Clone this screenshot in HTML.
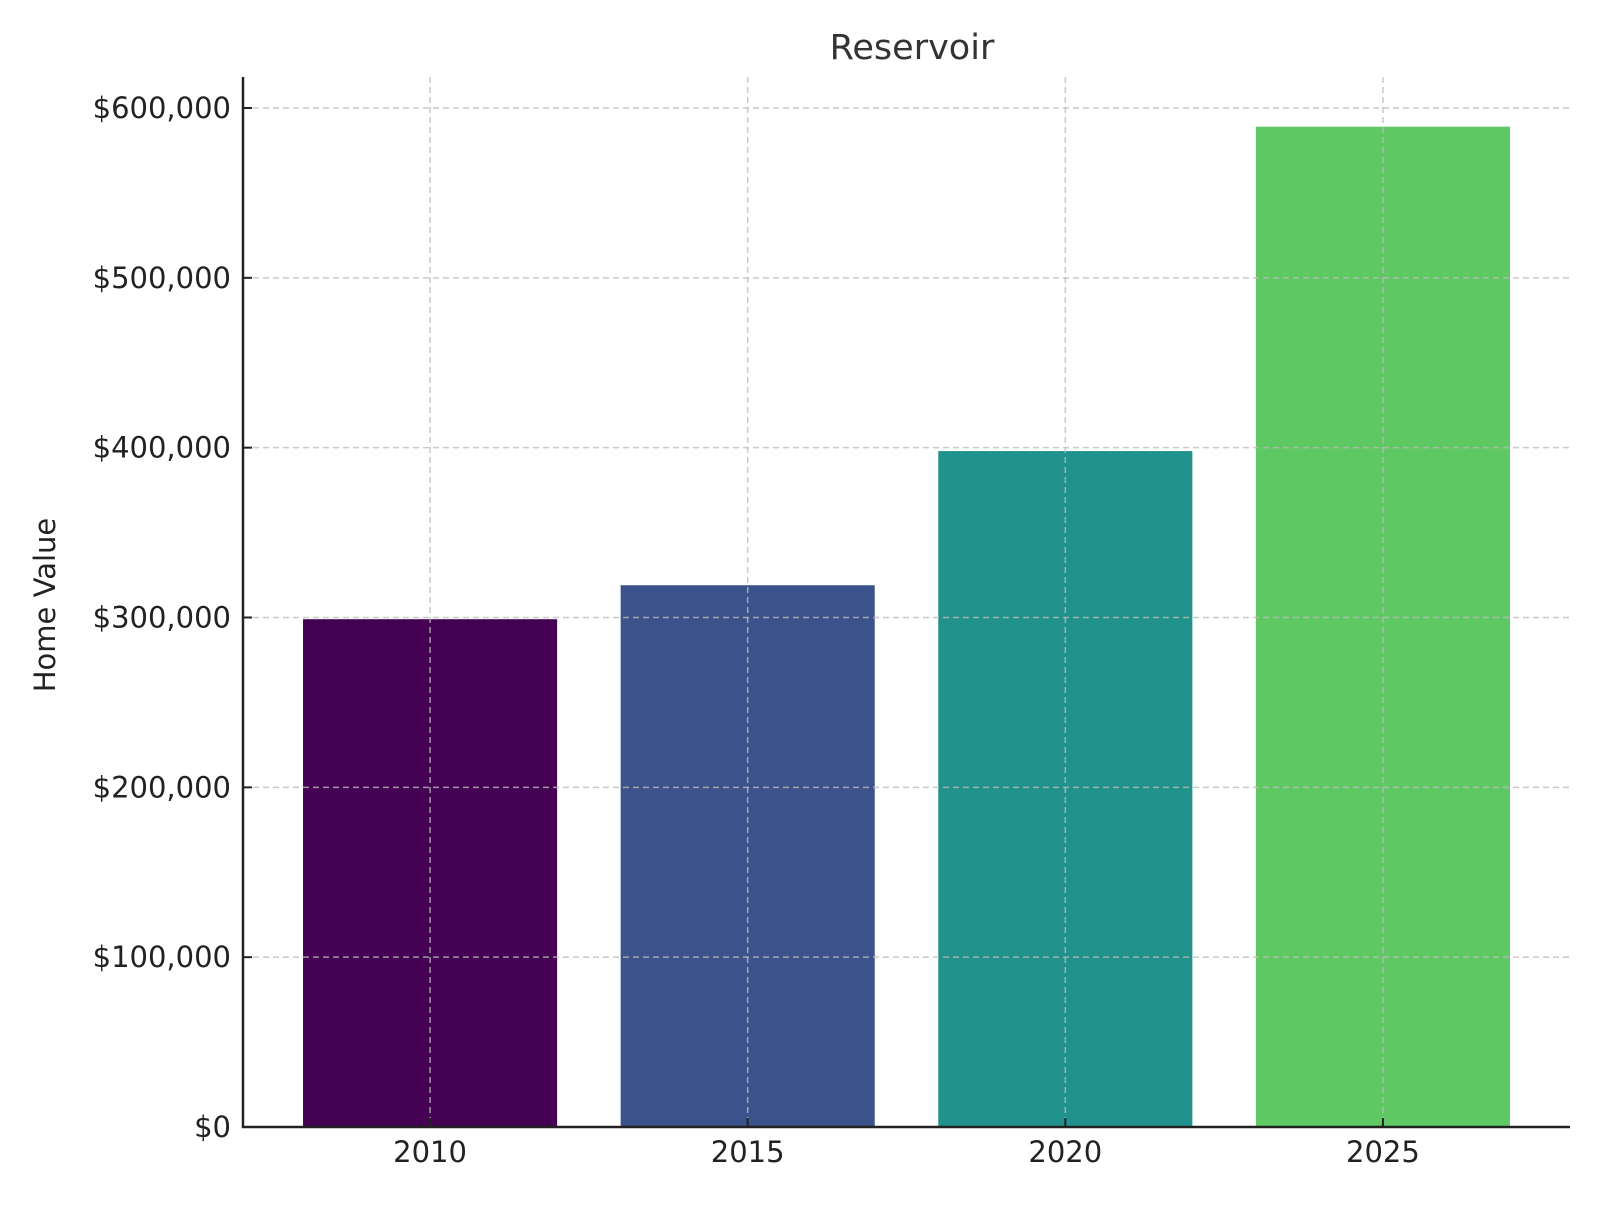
<!DOCTYPE html>
<html><head><meta charset="utf-8"><style>
body{margin:0;background:#fff}
svg text{font-family:"DejaVu Sans","Liberation Sans",sans-serif;fill:#222}
</style></head><body>
<svg width="1600" height="1200" viewBox="0 0 1600 1200">
<text x="912" y="59" font-size="35" text-anchor="middle" style="fill:#333">Reservoir</text>
<text transform="translate(55,605) rotate(-90)" font-size="29" text-anchor="middle">Home Value</text>
<g id="bars"></g><g id="grid"></g><g id="axes"></g>
</svg>
<script>
const categories=["2010","2015","2020","2025"];
const values=[299000,319000,398000,589000];
const colors=["#440154","#3b528b","#21918c","#5ec962"];
const yTicks=[0,100000,200000,300000,400000,500000,600000];
const L=243,R=1570,T=77,B=1127;
const xMin=-0.589,xMax=3.589;
const x=i=>L+(i-xMin)/(xMax-xMin)*(R-L);
const y=v=>B-v/600000*(B-108);
const NS="http://www.w3.org/2000/svg";
function mk(t,a,p){const e=document.createElementNS(NS,t);for(const k in a)e.setAttribute(k,a[k]);p.appendChild(e);return e;}
const bars=document.getElementById('bars'),grid=document.getElementById('grid'),axes=document.getElementById('axes');
const bw=(x(1)-x(0))*0.8;
values.forEach((v,i)=>{
 const r=mk('rect',{x:x(i)-bw/2,y:y(v),width:bw,height:B-y(v),fill:colors[i]},bars);
 
 
});
yTicks.forEach(t=>{
 const g=mk('line',{x1:L,x2:R,y1:y(t),y2:y(t),stroke:'#bbb','stroke-opacity':0.8,'stroke-width':1.5,'stroke-dasharray':'6,4'},grid);
 
 
 mk('line',{x1:L,x2:L+9,y1:y(t),y2:y(t),stroke:'#222','stroke-width':2},axes);
 const tx=mk('text',{x:L-12,y:y(t)+10,'font-size':29,'text-anchor':'end'},axes);
 tx.textContent='$'+t.toLocaleString('en-US');
 
 
});
categories.forEach((c,i)=>{
 const g=mk('line',{x1:x(i),x2:x(i),y1:T,y2:B,stroke:'#bbb','stroke-opacity':0.8,'stroke-width':1.5,'stroke-dasharray':'6,4'},grid);
 
 
 mk('line',{x1:x(i),x2:x(i),y1:B,y2:B-9,stroke:'#222','stroke-width':2},axes);
 const tx=mk('text',{x:x(i),y:1162,'font-size':29,'text-anchor':'middle'},axes);
 tx.textContent=c;
 
 
});
const ya=mk('line',{x1:L,x2:L,y1:T,y2:B+1,stroke:'#222','stroke-width':2.5},axes);


const xa=mk('line',{x1:L-1,x2:R,y1:B,y2:B,stroke:'#222','stroke-width':2.5},axes);


</script>
</body></html>
